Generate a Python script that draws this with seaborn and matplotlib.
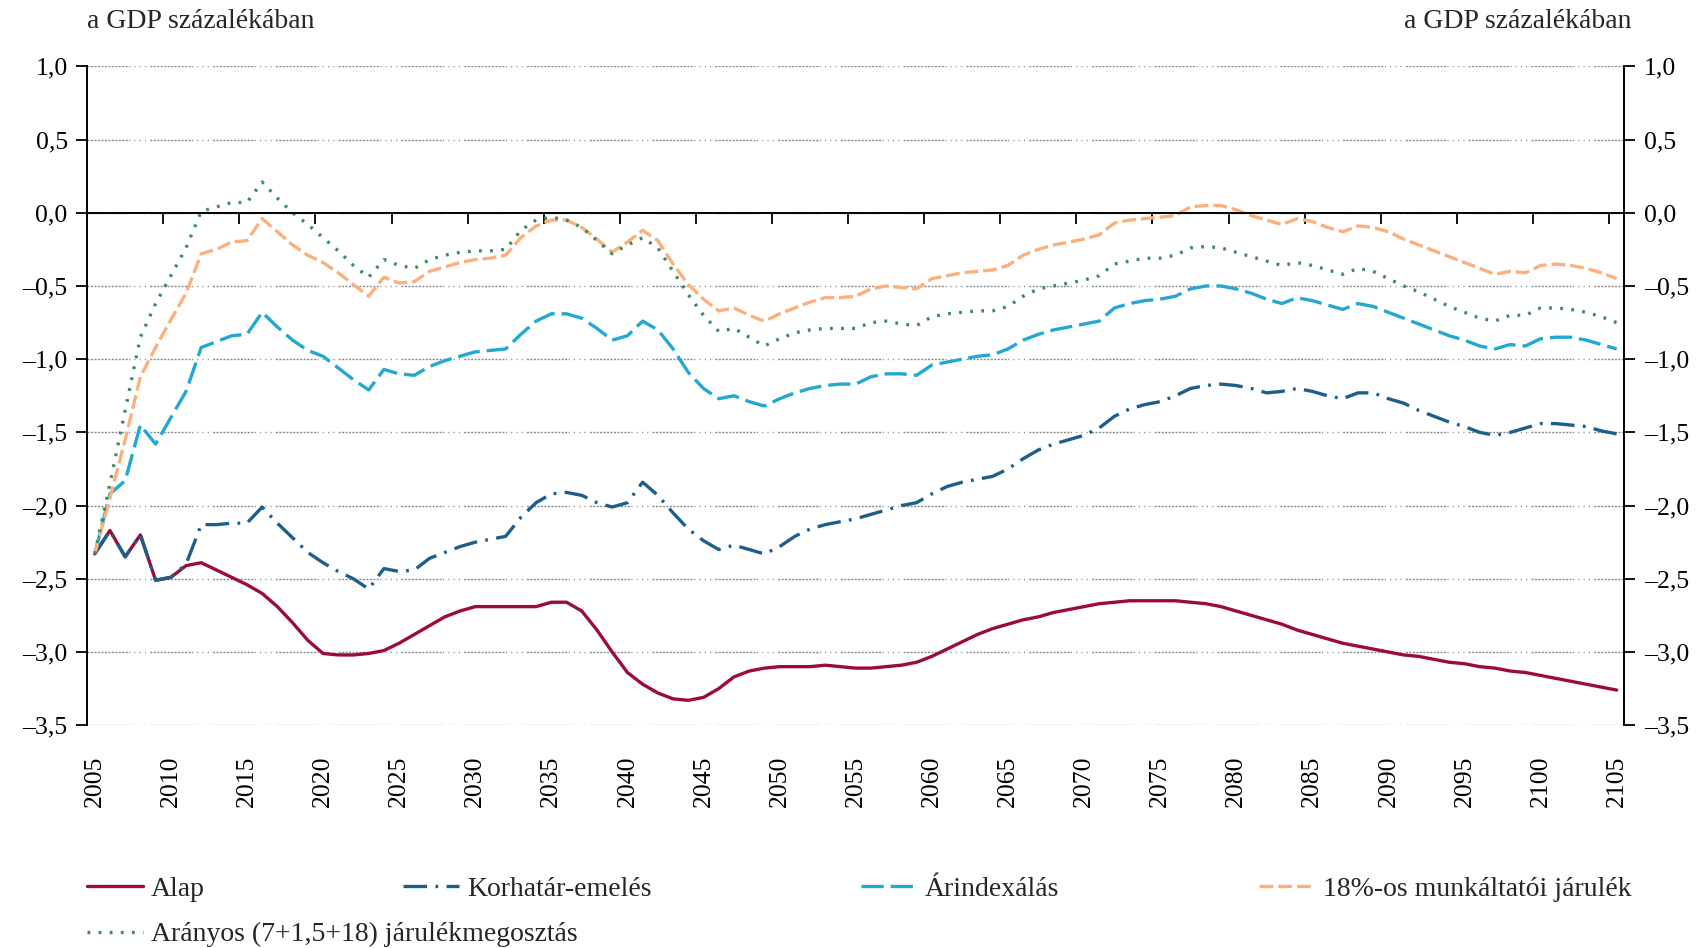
import pandas as pd
import matplotlib
matplotlib.use("Agg")
import matplotlib.pyplot as plt
import matplotlib.ticker as mticker
import seaborn as sns

# years on the category axis (one value per year)
years = list(range(2005, 2106))
year_labels = years[::5]

alap = [
    -2.33, -2.17, -2.35, -2.20, -2.51, -2.49, -2.41, -2.39, -2.44, -2.49,  # 2005-2014
    -2.54, -2.60, -2.69, -2.80, -2.92, -3.01, -3.02, -3.02, -3.01, -2.99,  # 2015-2024
    -2.94, -2.88, -2.82, -2.76, -2.72, -2.69, -2.69, -2.69, -2.69, -2.69,  # 2025-2034
    -2.66, -2.66, -2.72, -2.85, -3.00, -3.14, -3.22, -3.28, -3.32, -3.33,  # 2035-2044
    -3.31, -3.25, -3.17, -3.13, -3.11, -3.10, -3.10, -3.10, -3.09, -3.10,  # 2045-2054
    -3.11, -3.11, -3.10, -3.09, -3.07, -3.03, -2.98, -2.93, -2.88, -2.84,  # 2055-2064
    -2.81, -2.78, -2.76, -2.73, -2.71, -2.69, -2.67, -2.66, -2.65, -2.65,  # 2065-2074
    -2.65, -2.65, -2.66, -2.67, -2.69, -2.72, -2.75, -2.78, -2.81, -2.85,  # 2075-2084
    -2.88, -2.91, -2.94, -2.96, -2.98, -3.00, -3.02, -3.03, -3.05, -3.07,  # 2085-2094
    -3.08, -3.10, -3.11, -3.13, -3.14, -3.16, -3.18, -3.20, -3.22, -3.24,  # 2095-2104
    -3.26,
]

korhatar = [
    -2.33, -2.17, -2.35, -2.20, -2.51, -2.49, -2.40, -2.13, -2.13, -2.12,
    -2.12, -2.01, -2.12, -2.22, -2.32, -2.39, -2.45, -2.50, -2.57, -2.43,
    -2.45, -2.44, -2.36, -2.32, -2.28, -2.25, -2.23, -2.21, -2.08, -1.98,
    -1.92, -1.91, -1.93, -1.98, -2.01, -1.98, -1.84, -1.93, -2.05, -2.16,
    -2.24, -2.30, -2.27, -2.30, -2.33, -2.28, -2.21, -2.16, -2.13, -2.11,
    -2.09, -2.06, -2.03, -2.00, -1.98, -1.92, -1.87, -1.84, -1.82, -1.80,
    -1.75, -1.68, -1.62, -1.58, -1.55, -1.52, -1.47, -1.39, -1.34, -1.31,
    -1.29, -1.25, -1.20, -1.18, -1.17, -1.18, -1.20, -1.23, -1.22, -1.20,
    -1.22, -1.25, -1.27, -1.23, -1.23, -1.27, -1.30, -1.35, -1.39, -1.43,
    -1.46, -1.50, -1.52, -1.50, -1.47, -1.44, -1.44, -1.45, -1.46, -1.49,
    -1.51,
]

arindex = [
    -2.33, -1.92, -1.83, -1.45, -1.58, -1.40, -1.22, -0.92, -0.88, -0.84,
    -0.83, -0.68, -0.78, -0.87, -0.94, -0.98, -1.06, -1.14, -1.21, -1.07,
    -1.10, -1.11, -1.05, -1.01, -0.98, -0.95, -0.94, -0.93, -0.83, -0.74,
    -0.69, -0.69, -0.72, -0.79, -0.87, -0.84, -0.74, -0.80, -0.93, -1.09,
    -1.20, -1.27, -1.25, -1.29, -1.32, -1.27, -1.23, -1.20, -1.18, -1.17,
    -1.17, -1.12, -1.10, -1.10, -1.11, -1.04, -1.02, -1.00, -0.98, -0.97,
    -0.93, -0.87, -0.83, -0.80, -0.78, -0.76, -0.74, -0.65, -0.62, -0.60,
    -0.59, -0.57, -0.52, -0.50, -0.50, -0.52, -0.55, -0.59, -0.62, -0.58,
    -0.60, -0.63, -0.66, -0.62, -0.64, -0.68, -0.72, -0.76, -0.80, -0.84,
    -0.87, -0.91, -0.93, -0.90, -0.91, -0.86, -0.85, -0.85, -0.87, -0.90,
    -0.93,
]

munkaltatoi = [
    -2.33, -1.95, -1.55, -1.12, -0.92, -0.73, -0.55, -0.28, -0.25, -0.20,
    -0.19, -0.04, -0.13, -0.22, -0.29, -0.34, -0.41, -0.49, -0.57, -0.44,
    -0.48, -0.47, -0.40, -0.37, -0.34, -0.32, -0.31, -0.29, -0.17, -0.09,
    -0.05, -0.05, -0.10, -0.18, -0.27, -0.20, -0.12, -0.19, -0.35, -0.49,
    -0.59, -0.67, -0.65, -0.70, -0.74, -0.69, -0.65, -0.61, -0.58, -0.58,
    -0.57, -0.52, -0.50, -0.51, -0.52, -0.45, -0.43, -0.41, -0.40, -0.39,
    -0.36, -0.29, -0.25, -0.22, -0.20, -0.18, -0.15, -0.07, -0.05, -0.04,
    -0.03, -0.02, 0.04, 0.05, 0.05, 0.02, -0.02, -0.05, -0.08, -0.04,
    -0.06, -0.10, -0.13, -0.09, -0.10, -0.13, -0.18, -0.22, -0.26, -0.30,
    -0.34, -0.38, -0.42, -0.40, -0.41, -0.36, -0.35, -0.36, -0.38, -0.41,
    -0.45,
]

aranyos = [
    -2.33, -1.85, -1.35, -0.85, -0.62, -0.43, -0.24, 0.01, 0.04, 0.07,
    0.07, 0.21, 0.10, 0.00, -0.08, -0.17, -0.26, -0.36, -0.44, -0.32,
    -0.36, -0.38, -0.32, -0.29, -0.27, -0.26, -0.26, -0.25, -0.12, -0.05,
    -0.03, -0.05, -0.10, -0.19, -0.28, -0.22, -0.17, -0.24, -0.40, -0.56,
    -0.70, -0.81, -0.79, -0.85, -0.91, -0.86, -0.82, -0.80, -0.79, -0.79,
    -0.79, -0.75, -0.74, -0.76, -0.77, -0.71, -0.69, -0.68, -0.67, -0.67,
    -0.64, -0.57, -0.52, -0.50, -0.48, -0.46, -0.43, -0.35, -0.33, -0.31,
    -0.31, -0.29, -0.24, -0.23, -0.24, -0.27, -0.30, -0.33, -0.36, -0.34,
    -0.36, -0.39, -0.42, -0.38, -0.40, -0.45, -0.50, -0.54, -0.59, -0.64,
    -0.68, -0.72, -0.74, -0.70, -0.70, -0.65, -0.65, -0.66, -0.68, -0.71,
    -0.75,
]

names = [
    "Alap",
    "Korhatár-emelés",
    "Árindexálás",
    "18%-os munkáltatói járulék",
    "Arányos (7+1,5+18) járulékmegosztás",
]

df = pd.DataFrame({
    "ev": years,
    names[0]: alap,
    names[1]: korhatar,
    names[2]: arindex,
    names[3]: munkaltatoi,
    names[4]: aranyos,
})

sns.set_theme(style="white")
plt.rcParams["font.family"] = ["Liberation Serif", "DejaVu Serif"]
plt.rcParams["lines.scale_dashes"] = False

FS = 18.5       # tick labels
FS_TEXT = 20    # headings and legend

# colour, dash pattern, width for each scenario
styles = {
    names[0]: ("#9c0c3a", "-", 2.4),
    names[1]: ("#1d5f8b", (0, (17, 6, 2, 6)), 2.4),
    names[2]: ("#22a8d2", (0, (16, 5)), 2.4),
    names[3]: ("#fbb07e", (0, (10, 3.5)), 2.4),
    names[4]: ("#3c8c5f", (0, (2, 6)), 2.4),
}

fig = plt.figure(figsize=(17.08, 9.48), dpi=100)
ax = fig.add_axes([0.051, 0.235, 0.9, 0.695])

for name in names:
    color, ls, lw = styles[name]
    sns.lineplot(data=df, x="ev", y=name, ax=ax, color=color,
                 linestyle=ls, linewidth=lw, label=name)

if ax.get_legend() is not None:
    ax.get_legend().remove()

ax.set_xlim(2004.5, 2105.5)
ax.set_ylim(-3.5, 1.0)
ax.set_xlabel("")
ax.set_ylabel("")

# y axis on both sides, comma decimals and en dash minus
ax.yaxis.set_major_locator(mticker.MultipleLocator(0.5))
ax.yaxis.set_major_formatter(mticker.FuncFormatter(
    lambda v, p: f"{v:.1f}".replace(".", ",").replace("-", "–") if abs(v) > 1e-9 else "0,0"))
ax.tick_params(axis="y", which="major", direction="out", length=8, width=1.3,
               color="black", left=True, right=True, labelleft=True,
               labelright=True, labelsize=FS, pad=6, labelcolor="black")

# dotted grey grid (dash block followed by dots)
grid_dash = tuple([1.5, 1.0] * 12 + [0.8, 3.0] * 13)
ax.grid(axis="y", color="#8a8a8a", linewidth=1.0, linestyle=(0, grid_dash))
ax.grid(axis="x", visible=False)

for side in ["left", "right", "bottom"]:
    ax.spines[side].set_color("black")
    ax.spines[side].set_linewidth(1.4)
ax.spines["top"].set_visible(False)
ax.spines["bottom"].set_position(("data", 0))

# tick marks sit on the zero line, between categories
ax.xaxis.set_major_locator(mticker.FixedLocator(year_labels))
ax.set_xticks([y - 0.5 for y in years[5::5]], minor=True)
ax.tick_params(axis="x", which="major", length=0, labelbottom=False)
ax.tick_params(axis="x", which="minor", direction="out", length=8, width=1.3,
               color="black", bottom=True)

# year labels at the bottom of the plot area
sec = ax.secondary_xaxis("bottom")
sec.set_xticks(year_labels)
sec.xaxis.set_minor_locator(mticker.NullLocator())
sec.tick_params(axis="x", length=0, pad=22, labelsize=FS, labelrotation=90,
                labelcolor="black")
sec.spines["bottom"].set_visible(False)

fig.text(0.051, 0.977, "a GDP százalékában", ha="left", va="center", fontsize=FS_TEXT)
fig.text(0.955, 0.977, "a GDP százalékában", ha="right", va="center", fontsize=FS_TEXT)

# legend entries placed like the original layout
lines = {line.get_label(): line for line in ax.get_lines()}
legend_pos = {
    names[0]: (0.051, 0.062),
    names[1]: (0.236, 0.062),
    names[2]: (0.504, 0.062),
    names[3]: (0.737, 0.062),
    names[4]: (0.051, 0.014),
}
for name in names:
    fig.legend(handles=[lines[name]], labels=[name], loc="center left",
               bbox_to_anchor=legend_pos[name], frameon=False, fontsize=FS_TEXT,
               handlelength=2.0, handletextpad=0.3, borderpad=0,
               borderaxespad=0)

fig.savefig("out.png", dpi=100)
